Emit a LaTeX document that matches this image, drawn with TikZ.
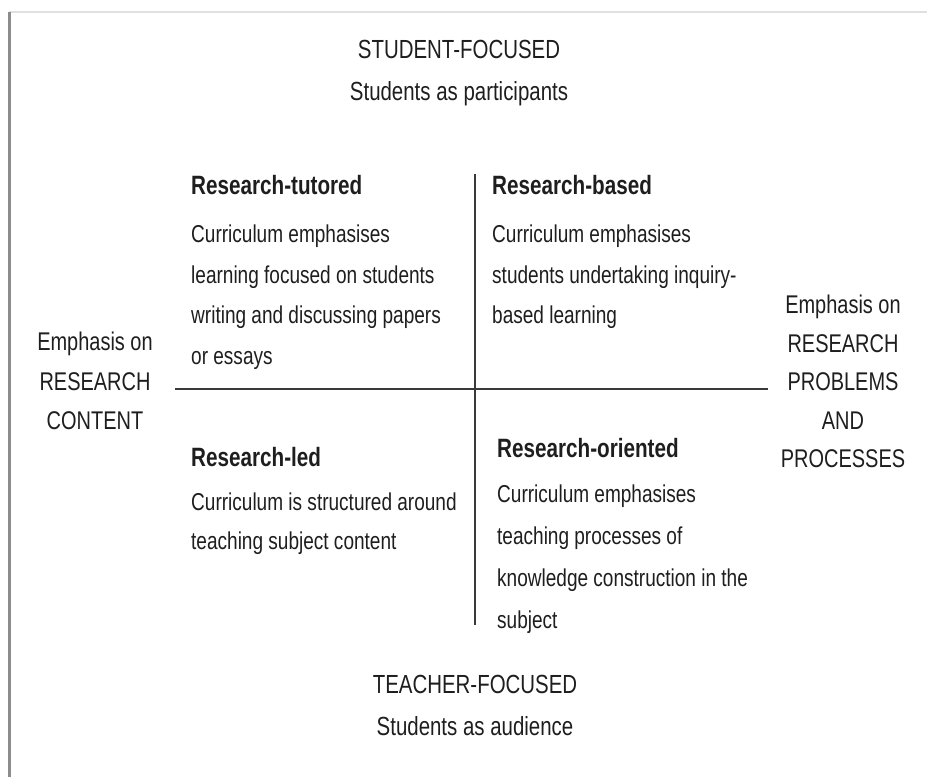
\documentclass[tikz,border=0pt]{standalone}
\usepackage{fontspec}
\setmainfont[FakeStretch=0.78]{Liberation Sans}
\definecolor{txt}{HTML}{1E1E1E}
\definecolor{axis}{HTML}{3A3A3A}
\begin{document}
\begin{tikzpicture}[x=1pt,y=-1pt,
  every node/.style={inner sep=0pt, text=txt},
  body/.style={anchor=base west, font=\fontsize{24.4}{30}\selectfont},
  head/.style={anchor=base west, font=\fontsize{26.5}{30}\selectfont\bfseries},
  side/.style={anchor=base, font=\fontsize{25.6}{30}\selectfont},
  title/.style={anchor=base, font=\fontsize{26.2}{30}\selectfont},
  axisline/.style={draw=axis, line width=1.6pt}]
\useasboundingbox (0,0) rectangle (927,777);
% frame
\draw[draw=black!12, line width=1.5pt] (9,12) -- (927,12);
\draw[draw=black!45, line width=2.5pt] (9.5,12) -- (9.5,777);
% titles
\node[title] (st1) at (459,58) {STUDENT-FOCUSED};
\node[title] (st2) at (459,100) {Students as participants};
\node[title] (tt1) at (475,693) {TEACHER-FOCUSED};
\node[title] (tt2) at (475,735) {Students as audience};
% axes
\coordinate (hl) at (175,389);
\coordinate (hr) at (768,389);
\coordinate (vt) at (475,174);
\coordinate (vb) at (475,625);
\draw[axisline] (hl) -- (hr);
\draw[axisline] (vt) -- (vb);
% left side
\node[side] (l1) at (95,350) {Emphasis on};
\node[side] (l2) at (95,390) {RESEARCH};
\node[side] (l3) at (95,429) {CONTENT};
% right side
\node[side] (r1) at (843,313) {Emphasis on};
\node[side] (r2) at (843,352) {RESEARCH};
\node[side] (r3) at (843,390) {PROBLEMS};
\node[side] (r4) at (843,429) {AND};
\node[side] (r5) at (843,467) {PROCESSES};
% research-tutored
\node[head] (tuh) at (191,194) {Research-tutored};
\node[body] (tu1) at (191,242) {Curriculum emphasises};
\node[body] (tu2) at (191,283) {learning focused on students};
\node[body] (tu3) at (191,323) {writing and discussing papers};
\node[body] (tu4) at (191,364) {or essays};
% research-based
\node[head] (bah) at (492,194) {Research-based};
\node[body] (ba1) at (492,242) {Curriculum emphasises};
\node[body] (ba2) at (492,283) {students undertaking inquiry-};
\node[body] (ba3) at (492,323) {based learning};
% research-led
\node[head] (leh) at (191,466) {Research-led};
\node[body] (le1) at (191,510) {Curriculum is structured around};
\node[body] (le2) at (191,549) {teaching subject content};
% research-oriented
\node[head] (orh) at (497,457) {Research-oriented};
\node[body] (or1) at (497,502) {Curriculum emphasises};
\node[body] (or2) at (497,544) {teaching processes of};
\node[body] (or3) at (497,586) {knowledge construction in the};
\node[body] (or4) at (497,628) {subject};
\end{tikzpicture}
\end{document}
